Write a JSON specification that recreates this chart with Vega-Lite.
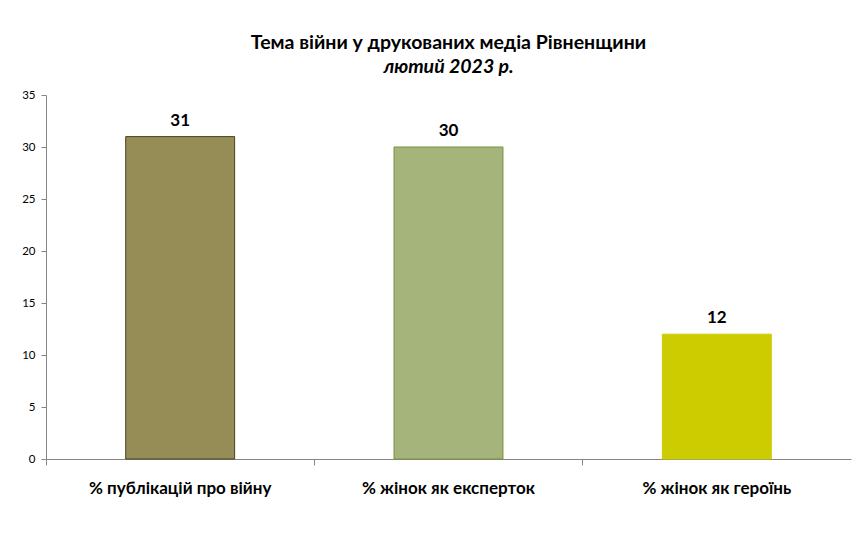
{
  "$schema": "https://vega.github.io/schema/vega-lite/v6.json",
  "autosize": "none",
  "width": 805,
  "height": 364,
  "padding": {"left": 46, "top": 95, "right": 17, "bottom": 76},
  "background": "white",
  "title": {
    "text": "Тема війни у друкованих  медіа Рівненщини",
    "subtitle": "лютий 2023 р.",
    "font": "Lato",
    "fontSize": 19.5,
    "fontWeight": "bold",
    "color": "black",
    "subtitleFont": "Lato",
    "subtitleFontSize": 19.5,
    "subtitleFontWeight": "bold",
    "subtitleFontStyle": "italic",
    "subtitleColor": "black",
    "subtitlePadding": 4,
    "offset": 12,
    "anchor": "middle"
  },
  "data": {
    "values": [
      {"category": "% публікацій про війну", "value": 31},
      {"category": "% жінок як експерток", "value": 30},
      {"category": "% жінок як героїнь", "value": 12}
    ]
  },
  "encoding": {
    "x": {
      "field": "category",
      "type": "nominal",
      "sort": null,
      "title": null,
      "scale": {"paddingInner": 0, "paddingOuter": 0},
      "axis": {
        "bandPosition": 0,
        "labelAngle": 0,
        "labelLimit": 400,
        "labelFont": "Lato",
        "labelFontSize": 17,
        "labelFontWeight": "bold",
        "labelColor": "black",
        "labelPadding": 15,
        "domainColor": "#868686",
        "tickColor": "#868686",
        "tickSize": 6,
        "grid": false
      }
    },
    "y": {
      "field": "value",
      "type": "quantitative",
      "title": null,
      "scale": {"domain": [0, 35]},
      "axis": {
        "values": [0, 5, 10, 15, 20, 25, 30, 35],
        "labelFont": "Lato",
        "labelFontSize": 11.5,
        "labelColor": "black",
        "labelPadding": 6,
        "domainColor": "#868686",
        "tickColor": "#868686",
        "tickSize": 5,
        "grid": false
      }
    }
  },
  "layer": [
    {
      "mark": {"type": "bar", "width": {"band": 0.406}, "strokeWidth": 1},
      "encoding": {
        "fill": {
          "field": "category",
          "type": "nominal",
          "legend": null,
          "scale": {
            "domain": ["% публікацій про війну", "% жінок як експерток", "% жінок як героїнь"],
            "range": ["#968C55", "#A4B47A", "#CCCC00"]
          }
        },
        "stroke": {
          "field": "category",
          "type": "nominal",
          "legend": null,
          "scale": {
            "domain": ["% публікацій про війну", "% жінок як експерток", "% жінок як героїнь"],
            "range": ["#4A4324", "#76923C", "#CCCC00"]
          }
        }
      }
    },
    {
      "mark": {
        "type": "text",
        "dy": -16,
        "font": "Lato",
        "fontSize": 17,
        "fontWeight": "bold",
        "color": "black"
      },
      "encoding": {"text": {"field": "value", "type": "quantitative"}}
    }
  ],
  "config": {"view": {"stroke": null}}
}
